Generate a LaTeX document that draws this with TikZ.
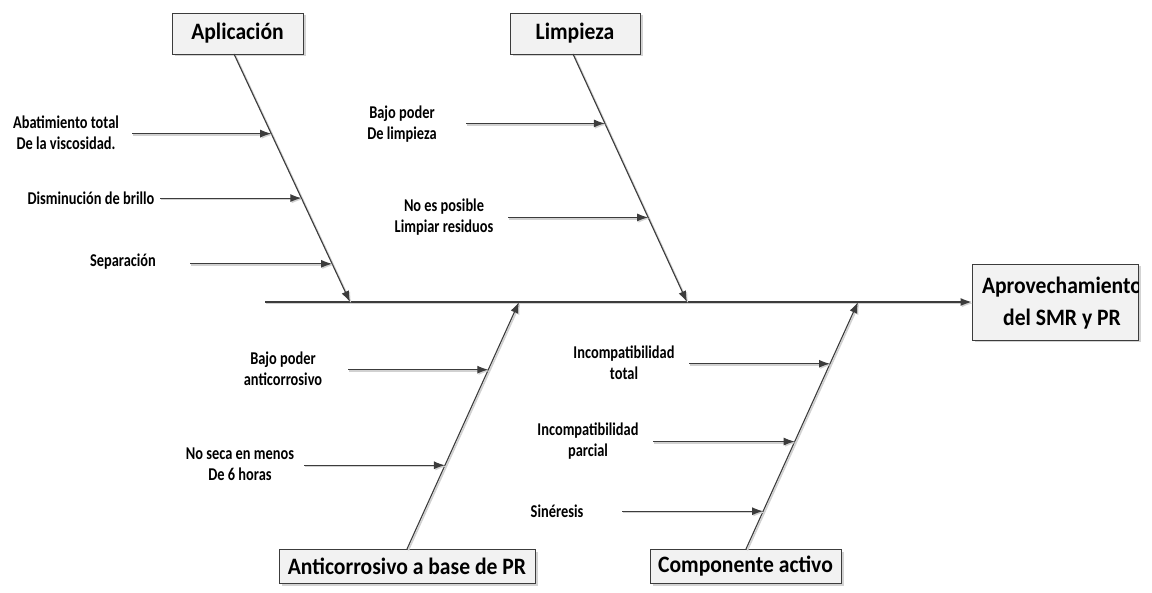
\documentclass[tikz,border=0pt]{standalone}
\usepackage{fontspec}
\setmainfont{Carlito}
\newfontfamily\lblfont{Carlito}[FakeStretch=0.8]
\newfontfamily\boxfont{Carlito}[FakeStretch=0.92]
\usetikzlibrary{arrows.meta,shadows,calc}

\definecolor{ink}{HTML}{3C3C3C}
\definecolor{boxfill}{HTML}{F2F2F2}

\tikzset{
  catbox/.style={draw=ink, line width=0.9pt, fill=boxfill, inner sep=0pt,
    font=\boxfont\fontsize{23.5}{32}\selectfont\bfseries, align=center,
    drop shadow={shadow xshift=2.5pt, shadow yshift=-2.5pt, opacity=0.35, fill=gray}},
  cause/.style={font=\lblfont\fontsize{18}{21}\selectfont\bfseries, align=center, inner sep=0pt},
  shade line/.style={preaction={draw=black!18, line width=1.6pt,
    transform canvas={xshift=1.3pt, yshift=-1.3pt}}},
  bone/.style={draw=ink, line width=1.1pt, shade line,
    -{Latex[length=11pt, width=8pt]}},
  twig/.style={draw=ink, line width=1.1pt, shade line,
    -{Latex[length=11pt, width=8pt]}},
}

\begin{document}
\begin{tikzpicture}[x=1pt, y=-1pt]
\useasboundingbox (0,0) rectangle (1152,593);

% category boxes
\node[catbox, minimum width=131pt, minimum height=41pt] (apl) at (237.5,33.5) {Aplicación};
\node[catbox, minimum width=130pt, minimum height=41pt] (lim) at (575,33.5) {Limpieza};
\node[catbox, minimum width=256pt, minimum height=34pt] (anti) at (407,566) {Anticorrosivo a base de PR};
\node[catbox, minimum width=191pt, minimum height=34pt] (comp) at (745.5,566) {Componente activo};

% effect box (its first line runs past the right border and is cut off)
\node[catbox, minimum width=166pt, minimum height=76pt] (main) at (1055,302) {};
\begin{scope}
  \clip (main.south west) rectangle (main.north east);
  \node[font=\boxfont\fontsize{23.5}{32}\selectfont\bfseries, align=center, inner sep=0pt] (maintext)
    at (1062,303) {Aprovechamiento\\del SMR y PR};
\end{scope}

% spine
\coordinate (spine) at (265,302);
\draw[bone] (spine) -- (main.west |- spine);

% bone end points
\coordinate (aplR) at (234,54);   \coordinate (aplT) at (350,302);
\coordinate (limR) at (573,54);   \coordinate (limT) at (687,302);
\coordinate (antiR) at (407,549); \coordinate (antiT) at (519,302);
\coordinate (compR) at (746,549); \coordinate (compT) at (858,302);

\draw[bone] (aplR) -- (aplT);
\draw[bone] (limR) -- (limT);
\draw[bone] (antiR) -- (antiT);
\draw[bone] (compR) -- (compT);

% points where the causes meet their bones
\path (aplR) -- (aplT)
  coordinate[pos=0.321] (a1) coordinate[pos=0.581] (a2) coordinate[pos=0.846] (a3);
\path (limR) -- (limT)
  coordinate[pos=0.280] (l1) coordinate[pos=0.659] (l2);
\path (antiR) -- (antiT)
  coordinate[pos=0.726] (p1) coordinate[pos=0.339] (p2);
\path (compR) -- (compT)
  coordinate[pos=0.750] (c1) coordinate[pos=0.435] (c2) coordinate[pos=0.153] (c3);

% start points of the cause arrows
\coordinate (a1s) at (132,0); \coordinate (a2s) at (160,0); \coordinate (a3s) at (190,0);
\coordinate (l1s) at (466,0); \coordinate (l2s) at (508,0);
\coordinate (p1s) at (348,0); \coordinate (p2s) at (304,0);
\coordinate (c1s) at (689,0); \coordinate (c2s) at (653,0); \coordinate (c3s) at (622,0);

\draw[twig] (a1 -| a1s) -- (a1);
\draw[twig] (a2 -| a2s) -- (a2);
\draw[twig] (a3 -| a3s) -- (a3);
\draw[twig] (l1 -| l1s) -- (l1);
\draw[twig] (l2 -| l2s) -- (l2);
\draw[twig] (p1 -| p1s) -- (p1);
\draw[twig] (p2 -| p2s) -- (p2);
\draw[twig] (c1 -| c1s) -- (c1);
\draw[twig] (c2 -| c2s) -- (c2);
\draw[twig] (c3 -| c3s) -- (c3);

% cause labels
\node[cause] (ta1) at (66,133) {Abatimiento total\\De la viscosidad.};
\node[cause] (ta2) at (91,198) {Disminución de brillo};
\node[cause] (ta3) at (123,262) {Separación};
\node[cause] (tl1) at (402,124) {Bajo poder\\De limpieza};
\node[cause] (tl2) at (444,217) {No es posible\\Limpiar residuos};
\node[cause] (tp1) at (283,369) {Bajo poder\\anticorrosivo};
\node[cause] (tp2) at (240,464) {No seca en menos\\De 6 horas};
\node[cause] (tc1) at (624,363) {Incompatibilidad\\total};
\node[cause] (tc2) at (588,441) {Incompatibilidad\\parcial};
\node[cause] (tc3) at (557,511) {Sinéresis};
\end{tikzpicture}
\end{document}
